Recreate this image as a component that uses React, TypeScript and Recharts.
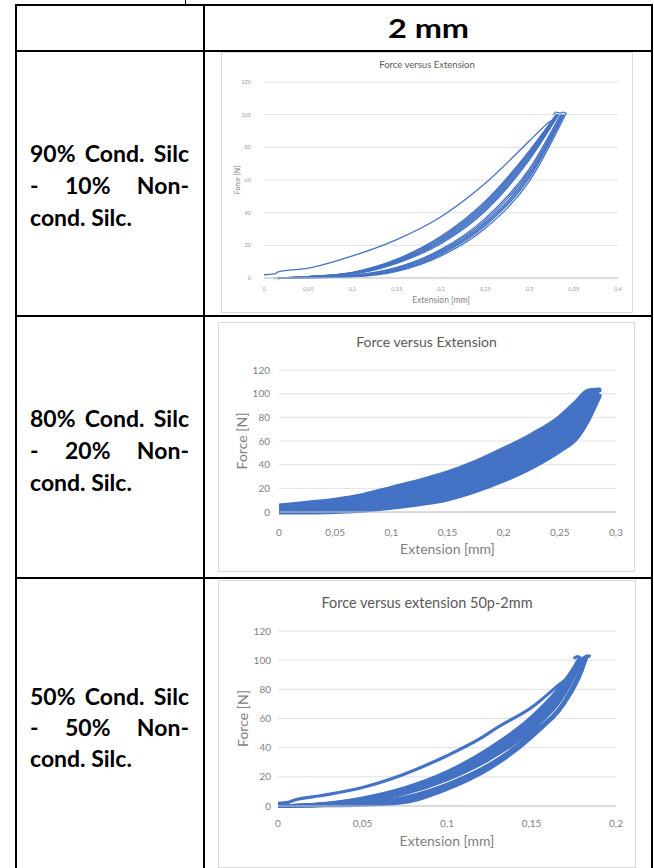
import { Area, CartesianGrid, ComposedChart, Label, Line, ReferenceDot, XAxis, YAxis } from 'recharts'

type Pt = [number, number]

const FONT = 'Lato, "Open Sans", sans-serif'
const BLUE = '#4472c4'

const forceTicks = [0, 20, 40, 60, 80, 100, 120]
const ext90Ticks = [0, 0.05, 0.1, 0.15, 0.2, 0.25, 0.3, 0.35, 0.4]
const ext80Ticks = [0, 0.05, 0.1, 0.15, 0.2, 0.25, 0.3]
const ext50Ticks = [0, 0.05, 0.1, 0.15, 0.2]

const rowLabels = [
  ['90% Cond. Silc', '- 10% Non-', 'cond. Silc.'],
  ['80% Cond. Silc', '- 20% Non-', 'cond. Silc.'],
  ['50% Cond. Silc', '- 50% Non-', 'cond. Silc.'],
]

// 90/10
const c90Outer: Pt[] = [[0, 2], [0.012, 2.5], [0.016, 3.7], [0.05, 6], [0.1, 13.5], [0.15, 23.5], [0.2, 37.5], [0.25, 58], [0.3, 84], [0.315, 92], [0.322, 95.5], [0.328, 97], [0.333, 100]]
const c90A1: Pt[] = [[0.015, 0], [0.05, 0.9], [0.1, 3.5], [0.15, 11.5], [0.2, 25.5], [0.25, 47], [0.3, 78], [0.33, 100]]
const c90A1b: Pt[] = [[0.015, 0], [0.05, 0.85], [0.1, 3.3], [0.15, 11], [0.2, 24.8], [0.25, 46], [0.3, 77.2], [0.3305, 100]]
const c90A2: Pt[] = [[0.016, 0], [0.05, 0.8], [0.1, 3.1], [0.15, 10.5], [0.2, 24], [0.25, 45], [0.3, 76.5], [0.331, 100]]
const c90A2b: Pt[] = [[0.016, 0], [0.05, 0.75], [0.1, 2.9], [0.15, 10.1], [0.2, 23.2], [0.25, 44], [0.3, 75.5], [0.3315, 100]]
const c90A3: Pt[] = [[0.017, 0], [0.05, 0.7], [0.1, 2.8], [0.15, 9.8], [0.2, 22.5], [0.25, 43], [0.3, 74.5], [0.332, 100]]
const c90A3b: Pt[] = [[0.017, 0], [0.05, 0.65], [0.1, 2.6], [0.15, 9.4], [0.2, 21.7], [0.25, 42], [0.3, 73.5], [0.3325, 100]]
const c90A4: Pt[] = [[0.018, 0], [0.05, 0.6], [0.1, 2.4], [0.15, 9], [0.2, 21], [0.25, 41], [0.3, 72.5], [0.333, 100]]
const c90B1: Pt[] = [[0.019, 0], [0.05, 0.4], [0.1, 1.7], [0.15, 6.5], [0.2, 17.5], [0.25, 36.5], [0.3, 67], [0.335, 100]]
const c90B1b: Pt[] = [[0.019, 0], [0.05, 0.35], [0.1, 1.5], [0.15, 6], [0.2, 16.8], [0.25, 35.2], [0.3, 65.5], [0.336, 100]]
const c90B2: Pt[] = [[0.02, 0], [0.05, 0.3], [0.1, 1.3], [0.15, 5.5], [0.2, 16], [0.25, 34], [0.3, 64], [0.337, 100]]
const c90B2b: Pt[] = [[0.02, 0], [0.05, 0.25], [0.1, 1.15], [0.15, 5], [0.2, 15.2], [0.25, 33], [0.3, 62.7], [0.338, 100]]
const c90B3: Pt[] = [[0.02, 0], [0.05, 0.2], [0.1, 1], [0.15, 4.5], [0.2, 14.5], [0.25, 32], [0.3, 61.5], [0.339, 100]]
const c90B4: Pt[] = [[0.021, 0], [0.05, 0.1], [0.1, 0.7], [0.15, 4], [0.2, 13.5], [0.25, 30.5], [0.3, 59.5], [0.341, 100.5]]
const c90Peak: Pt[] = [[0.327, 100], [0.33, 101.5], [0.335, 101], [0.338, 101.5], [0.342, 100.5]]

// 80/20 — dense band: extension, lower force, upper force
const band80: [number, number, number][] = [
  [0, 0, 5], [0.01, 0, 6], [0.025, 0, 7.5], [0.05, 0.5, 10], [0.075, 1.5, 14],
  [0.1, 4, 20], [0.125, 7, 26], [0.15, 11, 33], [0.175, 18, 42], [0.2, 27, 53],
  [0.225, 38, 65], [0.25, 52, 80], [0.265, 63, 93], [0.275, 78, 102], [0.285, 98, 103],
]

// 50/50
const c50Outer: Pt[] = [[0, 1.8], [0.006, 2.5], [0.009, 3.8], [0.025, 7], [0.05, 12.7], [0.075, 22], [0.1, 34.5], [0.12, 46.5], [0.13, 54], [0.15, 67.5], [0.165, 82], [0.175, 92], [0.18, 101]]
const c50U1: Pt[] = [[0, 0], [0.025, 1.5], [0.05, 5.5], [0.075, 12.5], [0.1, 23.5], [0.125, 39.5], [0.15, 61], [0.165, 79], [0.175, 95], [0.178, 101]]
const c50U1b: Pt[] = [[0, 0], [0.025, 1.35], [0.05, 5], [0.075, 11.8], [0.1, 22.5], [0.125, 38], [0.15, 59.2], [0.165, 77.5], [0.1755, 95], [0.1785, 101]]
const c50U2: Pt[] = [[0, 0], [0.025, 1.2], [0.05, 4.5], [0.075, 11], [0.1, 21.5], [0.125, 36.5], [0.15, 57.5], [0.165, 76], [0.176, 95], [0.179, 101]]
const c50U2b: Pt[] = [[0, 0], [0.025, 1.1], [0.05, 4.1], [0.075, 10.2], [0.1, 20.5], [0.125, 35.2], [0.15, 56], [0.166, 75.5], [0.1765, 95], [0.1795, 101]]
const c50U3: Pt[] = [[0, 0], [0.025, 1], [0.05, 3.8], [0.075, 9.5], [0.1, 19.5], [0.125, 34], [0.15, 54.5], [0.167, 75], [0.177, 95], [0.18, 101.5]]
const c50U3b: Pt[] = [[0, 0], [0.025, 0.9], [0.05, 3.5], [0.075, 9], [0.1, 18.8], [0.125, 33], [0.15, 53.2], [0.1675, 74.5], [0.1775, 95], [0.1805, 101.5]]
const c50U4: Pt[] = [[0, 0], [0.025, 0.8], [0.05, 3.2], [0.075, 8.5], [0.1, 18], [0.125, 32], [0.15, 52], [0.168, 74], [0.178, 95], [0.181, 102]]
const c50L1: Pt[] = [[0, 0], [0.025, 0.5], [0.05, 2], [0.075, 6], [0.1, 15], [0.125, 28.5], [0.15, 49.5], [0.17, 73], [0.18, 96], [0.182, 102]]
const c50L1b: Pt[] = [[0, 0], [0.025, 0.4], [0.05, 1.6], [0.075, 5], [0.1, 14], [0.125, 27.5], [0.15, 48.8], [0.17, 72], [0.18, 94.5], [0.1825, 102.5]]
const c50L2: Pt[] = [[0, 0], [0.025, 0.3], [0.05, 1.2], [0.075, 4], [0.1, 13], [0.125, 26.5], [0.15, 48], [0.17, 71], [0.18, 93], [0.183, 103]]
const c50L3: Pt[] = [[0, 0], [0.025, 0.2], [0.05, 0.6], [0.075, 2.5], [0.1, 11.5], [0.125, 25.5], [0.15, 47], [0.165, 64.5], [0.175, 82], [0.183, 103]]
const c50Peak: Pt[] = [[0.175, 101], [0.177, 102.5], [0.18, 101], [0.183, 103], [0.185, 102.5]]

const toRows = (pts: Pt[]) => pts.map(([x, y]) => ({ x, y }))
const comma = (v: number) => String(v).replace('.', ',')

interface PlotProps {
  left: number
  top: number
  width: number
  height: number
  title: string
  titleSize: number
  titleY: number
  xDomain: [number, number]
  xTicks: number[]
  yAxisWidth: number
  marginTop: number
  marginRight: number
  xAxisHeight: number
  tickFont: number
  tickColor: string
  yTickGap: number
  xTickGap: number
  xTitleSize: number
  yTitleSize: number
  yTitleOffset: number
  xTitleOffset: number
  strokeWidth: number
  curves: Pt[][]
  band?: [number, number, number][]
  originLabel?: boolean
}

function Plot(p: PlotProps) {
  const text = { fontFamily: FONT, fill: '#7f7f7f' }
  const bandRows = p.band ? p.band.map(([x, lo, hi]) => ({ x, band: [lo, hi] })) : undefined
  return (
    <>
      <div
        style={{
          position: 'absolute', left: p.left, top: p.top, width: p.width, height: p.height,
          border: '1px solid #d9d9d9', boxSizing: 'border-box',
        }}
      />
      <div style={{ position: 'absolute', left: p.left, top: 0 }}>
        <ComposedChart
          width={p.width}
          height={p.height}
          data={bandRows}
          margin={{ top: p.marginTop, right: p.marginRight, bottom: 0, left: 0 }}
          style={{ position: 'absolute', left: 0, top: p.top }}
        >
          <CartesianGrid vertical={false} stroke="#e0e0e0" />
          <XAxis
            type="number"
            dataKey="x"
            domain={p.xDomain}
            ticks={p.xTicks}
            interval={0}
            allowDataOverflow
            height={p.xAxisHeight}
            tickFormatter={comma}
            tickLine={false}
            tickSize={0}
            tickMargin={p.xTickGap}
            axisLine={{ stroke: '#c8c8c8' }}
            tick={{ fontSize: p.tickFont, fill: p.tickColor, fontFamily: FONT }}
          >
            <Label value="Extension [mm]" position="insideBottom" offset={p.xTitleOffset} style={{ ...text, fontSize: p.xTitleSize }} />
          </XAxis>
          <YAxis
            type="number"
            domain={[0, 120]}
            ticks={forceTicks}
            interval={0}
            width={p.yAxisWidth}
            tickLine={false}
            axisLine={false}
            tickSize={0}
            tickMargin={p.yTickGap}
            tick={{ fontSize: p.tickFont, fill: p.tickColor, fontFamily: FONT }}
          >
            <Label
              value="Force [N]"
              angle={-90}
              position="insideLeft"
              offset={p.yTitleOffset}
              style={{ ...text, fontSize: p.yTitleSize, textAnchor: 'middle' }}
            />
          </YAxis>
          {bandRows && (
            <Area
              dataKey="band"
              type="monotone"
              fill={BLUE}
              fillOpacity={1}
              stroke={BLUE}
              strokeWidth={5}
              strokeLinecap="round"
              isAnimationActive={false}
            />
          )}
          {p.curves.map((c, i) => (
            <Line
              key={i}
              data={toRows(c)}
              dataKey="y"
              type="monotone"
              stroke={BLUE}
              strokeWidth={p.strokeWidth}
              dot={false}
              activeDot={false}
              isAnimationActive={false}
            />
          ))}
          {p.originLabel && (
            <ReferenceDot x={0.0145} y={0} r={0} label={{ value: '0,0', position: 'center', fontSize: 5, fill: '#9a9a9a' }} />
          )}
        </ComposedChart>
      </div>
      <div
        style={{
          position: 'absolute', left: p.left, top: p.titleY - 10, width: p.width, height: 20,
          lineHeight: '20px', textAlign: 'center', fontFamily: FONT, fontSize: p.titleSize, color: '#595959',
        }}
      >
        {p.title}
      </div>
    </>
  )
}

const line = (left: number, top: number, width: number, height: number) => (
  <div style={{ position: 'absolute', left, top, width, height, background: '#000' }} />
)

function RowLabel({ lines, top, lineHeight }: { lines: string[]; top: number; lineHeight: number }) {
  return (
    <div style={{ position: 'absolute', left: 30, top, width: 159, fontFamily: FONT, fontWeight: 700, fontSize: 23, color: '#000' }}>
      {lines.map((t, i) => (
        <div key={i} style={{ height: lineHeight, lineHeight: `${lineHeight}px`, textAlign: 'justify', textAlignLast: i < 2 ? 'justify' : 'left' }}>
          {t}
        </div>
      ))}
    </div>
  )
}

export default function App() {
  return (
    <div style={{ position: 'absolute', left: 0, top: 0, width: 654, height: 868, overflow: 'hidden', background: '#fff' }}>
      {line(185, 0, 1, 5)}
      {line(15, 4, 638, 2)}
      {line(15, 4, 2, 864)}
      {line(15, 50, 638, 2)}
      {line(15, 315, 638, 2)}
      {line(15, 577, 638, 2)}
      {line(203, 4, 2, 864)}
      {line(651, 4, 2, 864)}

      <div
        style={{
          position: 'absolute', left: 205, top: 8, width: 446, height: 40, lineHeight: '40px', textAlign: 'center',
          fontFamily: FONT, fontWeight: 700, fontSize: 26, color: '#000',
        }}
      >
        <span style={{ display: 'inline-block', transform: 'scaleX(1.25)' }}>2 mm</span>
      </div>

      <RowLabel lines={rowLabels[0]} top={137} lineHeight={32} />
      <RowLabel lines={rowLabels[1]} top={402} lineHeight={32} />
      <RowLabel lines={rowLabels[2]} top={681} lineHeight={31} />

      <Plot
        left={221} top={52} width={412} height={261}
        title="Force versus Extension" titleSize={9.5} titleY={65}
        xDomain={[0, 0.4]} xTicks={ext90Ticks}
        yAxisWidth={43} marginTop={30} marginRight={15} xAxisHeight={35}
        tickFont={5.5} tickColor="#9a9a9a" yTickGap={13} xTickGap={9}
        xTitleSize={8.5} yTitleSize={7} yTitleOffset={17} xTitleOffset={10}
        strokeWidth={1.3}
        curves={[c90Outer, c90A1, c90A1b, c90A2, c90A2b, c90A3, c90A3b, c90A4, c90B1, c90B1b, c90B2, c90B2b, c90B3, c90B4, c90Peak]}
        originLabel
      />
      <Plot
        left={218} top={322} width={417} height={250}
        title="Force versus Extension" titleSize={14} titleY={342}
        xDomain={[0, 0.3]} xTicks={ext80Ticks}
        yAxisWidth={61} marginTop={48} marginRight={19} xAxisHeight={60}
        tickFont={10} tickColor="#808080" yTickGap={9} xTickGap={16.5}
        xTitleSize={14} yTitleSize={14} yTitleOffset={24} xTitleOffset={18}
        strokeWidth={2}
        curves={[]}
        band={band80}
      />
      <Plot
        left={218} top={580} width={418} height={288}
        title="Force versus extension 50p-2mm" titleSize={14.5} titleY={603}
        xDomain={[0, 0.2]} xTicks={ext50Ticks}
        yAxisWidth={60} marginTop={51} marginRight={20} xAxisHeight={62}
        tickFont={10} tickColor="#808080" yTickGap={7} xTickGap={13.5}
        xTitleSize={14} yTitleSize={14} yTitleOffset={25} xTitleOffset={22}
        strokeWidth={3.2}
        curves={[c50Outer, c50U1, c50U1b, c50U2, c50U2b, c50U3, c50U3b, c50U4, c50L1, c50L1b, c50L2, c50L3, c50Peak]}
      />
    </div>
  )
}
